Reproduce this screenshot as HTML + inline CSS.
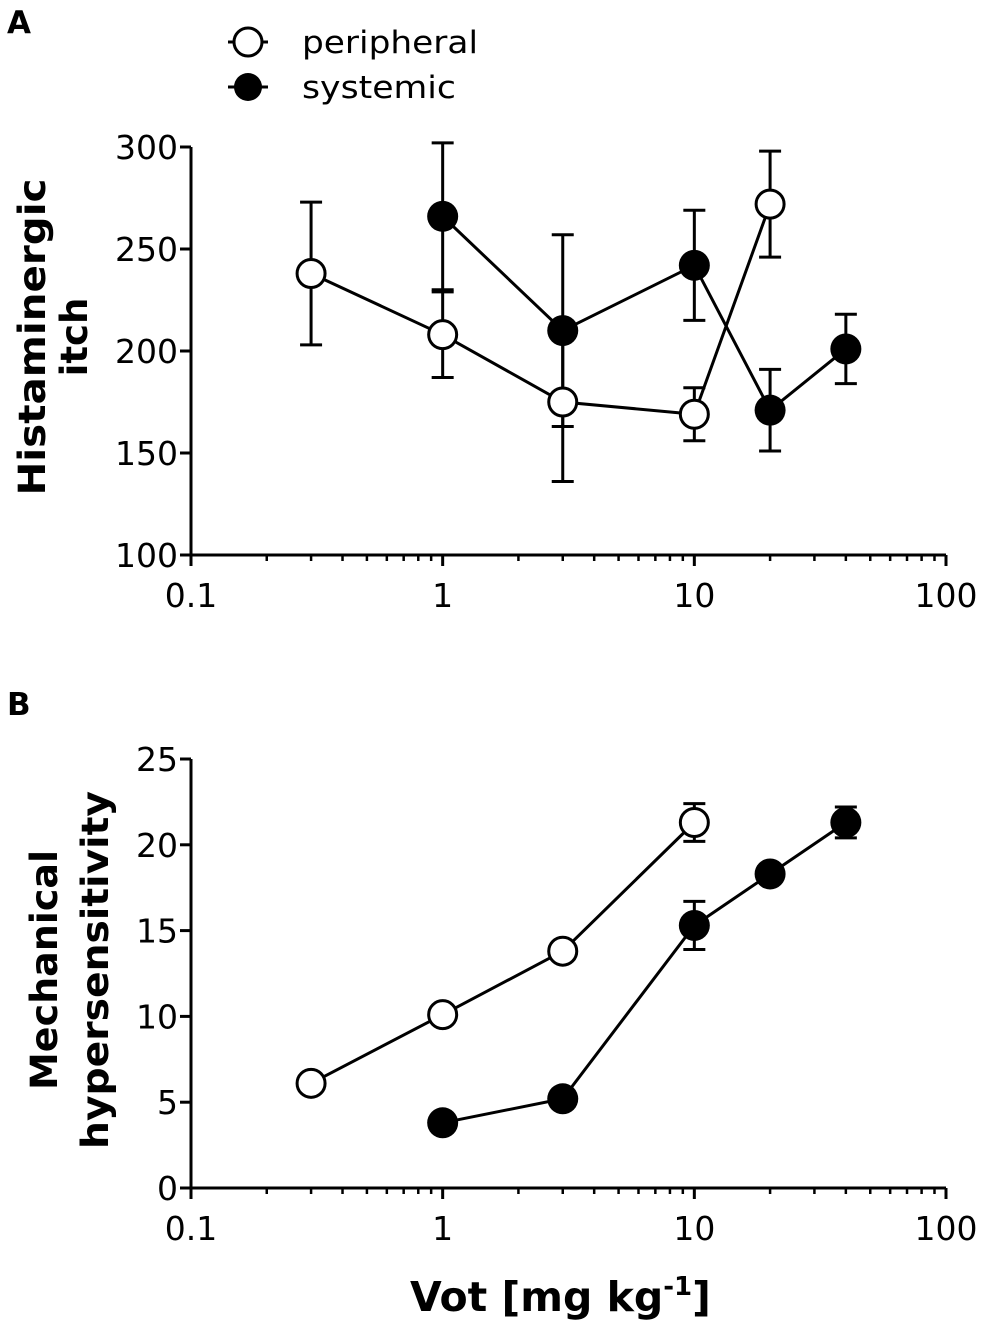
<!DOCTYPE html>
<html><head><meta charset="utf-8"><style>
body{margin:0;background:#fff}
svg{display:block;font-family:"DejaVu Sans","Liberation Sans",sans-serif}
</style></head><body>
<svg id="c" width="981" height="1323" viewBox="0 0 981 1323">
<text x="7" y="33" font-size="31" font-weight="bold">A</text>
<text x="7" y="715" font-size="31" font-weight="bold">B</text>
<g>
<line x1="228" y1="42" x2="268" y2="42" stroke="#000" stroke-width="3"/>
<circle cx="248" cy="42" r="14" fill="#fff" stroke="#000" stroke-width="3"/>
<text x="302" y="53" font-size="31" textLength="176" lengthAdjust="spacingAndGlyphs">peripheral</text>
<line x1="228" y1="87" x2="268" y2="87" stroke="#000" stroke-width="3"/>
<circle cx="248" cy="87" r="14" fill="#000"/>
<text x="302" y="98" font-size="31" textLength="154" lengthAdjust="spacingAndGlyphs">systemic</text>
</g>
<text font-size="37" font-weight="bold" text-anchor="middle" textLength="317" lengthAdjust="spacingAndGlyphs" transform="translate(45,337) rotate(-90)">Histaminergic</text>
<text font-size="37" font-weight="bold" text-anchor="middle" transform="translate(87,337) rotate(-90)">itch</text>
<text font-size="37" font-weight="bold" text-anchor="middle" textLength="240" lengthAdjust="spacingAndGlyphs" transform="translate(57,970) rotate(-90)">Mechanical</text>
<text font-size="37" font-weight="bold" text-anchor="middle" textLength="358" lengthAdjust="spacingAndGlyphs" transform="translate(108,970) rotate(-90)">hypersensitivity</text>
<text x="410" y="1311" font-size="41" font-weight="bold">Vot [mg kg<tspan font-size="26" dy="-16">-1</tspan><tspan dy="16">]</tspan></text>
</svg>
<script>
const xTicks=[0.1,1,10,100];
const xTickLabels=["0.1","1","10","100"];
const aYTicks=[100,150,200,250,300];
const bYTicks=[0,5,10,15,20,25];
const aPerX=[0.3,1,3,10,20];
const aPerY=[238,208,175,169,272];
const aPerErr=[35,21,39,13,26];
const aSysX=[1,3,10,20,40];
const aSysY=[266,210,242,171,201];
const aSysErr=[36,47,27,20,17];
const bPerX=[0.3,1,3,10];
const bPerY=[6.1,10.1,13.8,21.3];
const bPerErr=[0,0,0,1.1];
const bSysX=[1,3,10,20,40];
const bSysY=[3.8,5.2,15.3,18.3,21.3];
const bSysErr=[0,0,1.4,0,0.9];
const NS="http://www.w3.org/2000/svg";
const svg=document.getElementById('c');
function mk(t,a,p){const e=document.createElementNS(NS,t);for(const k in a)e.setAttribute(k,a[k]);(p||svg).appendChild(e);return e;}
const X0=191,X1=946;
const xs=v=>X0+(Math.log10(v)+1)/3*(X1-X0);
function panel(name,yTop,yBot,ymin,ymax,yt,per,sys){
  const ys=v=>yBot-(v-ymin)/(ymax-ymin)*(yBot-yTop);
  const g=mk('g',{});
  
  
  const ax=mk('path',{d:`M${X0},${ys(ymax)}V${yBot}H${X1}`,fill:'none',stroke:'#000','stroke-width':3},g);
  
  
  yt.forEach(v=>{
    mk('line',{x1:X0-11,x2:X0,y1:ys(v),y2:ys(v),stroke:'#000','stroke-width':3},g);
    const t=mk('text',{x:X0-13,y:ys(v)+12,'font-size':33,'text-anchor':'end'},g);
    t.textContent=v;
    
    
  });
  for(let d=-1;d<2;d++)for(let m=2;m<10;m++){const v=m*Math.pow(10,d);
    mk('line',{x1:xs(v),x2:xs(v),y1:yBot,y2:yBot+6,stroke:'#000','stroke-width':2.5},g);}
  xTicks.forEach((v,i)=>{
    mk('line',{x1:xs(v),x2:xs(v),y1:yBot,y2:yBot+11,stroke:'#000','stroke-width':3},g);
    const t=mk('text',{x:xs(v),y:yBot+52,'font-size':33,'text-anchor':'middle'},g);
    t.textContent=xTickLabels[i];
    
    
  });
  [[sys,'#000','systemic'],[per,'#fff','peripheral']].forEach(([s,fill,nm])=>{
    const [sx,sy,se]=s;
    const l=mk('polyline',{points:sx.map((x,i)=>xs(x)+','+ys(sy[i])).join(' '),fill:'none',stroke:'#000','stroke-width':3},g);
    
    
    sx.forEach((x,i)=>{
      if(se[i]>0){const cx=xs(x),a=ys(sy[i]+se[i]),b=ys(sy[i]-se[i]);
        const eb=mk('path',{d:`M${cx},${a}V${b}M${cx-11},${a}H${cx+11}M${cx-11},${b}H${cx+11}`,stroke:'#000','stroke-width':3,fill:'none'},g);
        
        }
    });
    sx.forEach((x,i)=>{
      const c=mk('circle',{cx:xs(x),cy:ys(sy[i]),r:fill=='#000'?15.5:14,fill:fill,stroke:'#000','stroke-width':fill=='#000'?0:3},g);
      
      
    });
  });
}
panel('panel-a-chart',147,555,100,300,aYTicks,[aPerX,aPerY,aPerErr],[aSysX,aSysY,aSysErr]);
panel('panel-b-chart',759,1188,0,25,bYTicks,[bPerX,bPerY,bPerErr],[bSysX,bSysY,bSysErr]);
</script>
</body></html>
